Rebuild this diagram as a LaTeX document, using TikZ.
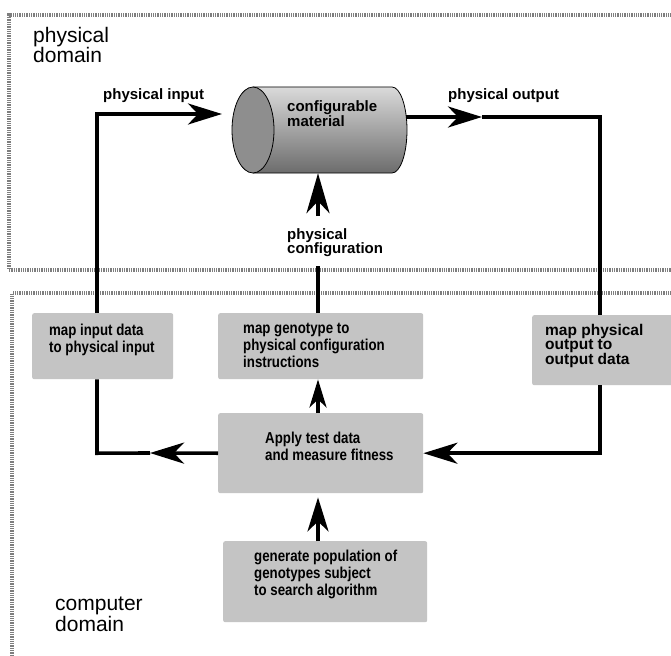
\documentclass[tikz,border=0pt]{standalone}
\usepackage{fontspec}
\setmainfont{Liberation Sans}
\newfontfamily\narrowsans[FakeStretch=0.84]{Liberation Sans}
\usetikzlibrary{arrows.meta}
\definecolor{framegray}{HTML}{7E7E7E}
\definecolor{boxgray}{HTML}{C4C4C4}
\definecolor{cyltop}{HTML}{DADADA}
\definecolor{cylmid}{HTML}{959595}
\definecolor{cylbot}{HTML}{6C6C6C}
\definecolor{cylface}{HTML}{8E8E8E}
\tikzset{
  frame/.style={line width=3.5pt, draw=framegray, dash pattern=on 1.3pt off 1pt},
  box/.style={fill=boxgray, rounded corners=2pt, inner sep=0pt, anchor=north west},
  conn/.style={line width=3.6pt, draw=black},
  tipbig/.style={-{Stealth[length=34pt,width=21pt,inset=10pt]}},
  tiplong/.style={-{Stealth[length=40pt,width=23pt,inset=12pt]}},
  tipsmall/.style={-{Stealth[length=28pt,width=17pt,inset=8pt]}},
  boxtext/.style={anchor=north west, inner sep=0pt, align=left,
    font=\narrowsans\bfseries\fontsize{15.8}{16.8}\selectfont},
  widetext/.style={anchor=north west, inner sep=0pt, align=left,
    font=\bfseries\fontsize{15.5}{14.5}\selectfont},
  arrowlabel/.style={anchor=north west, inner sep=0pt, align=left,
    font=\bfseries\fontsize{15}{14.5}\selectfont},
  domainlabel/.style={anchor=north west, inner sep=0pt, align=left,
    font=\fontsize{21}{19}\selectfont}
}
\begin{document}
\begin{tikzpicture}[x=1pt,y=-1pt]
\useasboundingbox (0,0) rectangle (671,655);
\fill[white] (0,0) rectangle (671,655);

% domain frames
\draw[frame] (690,15) -- (9,15) -- (9,270) -- (690,270);
\draw[frame] (690,293) -- (12,293) -- (12,670);

\node[domainlabel] (pdom) at (33,27) {physical\\domain};
\node[domainlabel] (cdom) at (55,597) {computer\\domain};

% cylinder
\shade[top color=cyltop, middle color=cylmid, bottom color=cylbot]
  (253,87) -- (392,87) arc[start angle=90, end angle=-90, x radius=15pt, y radius=43pt] -- (253,173) -- cycle;
\draw[line width=0.8pt] (253,87) -- (392,87) arc[start angle=90, end angle=-90, x radius=15pt, y radius=43pt] -- (253,173);
\filldraw[fill=cylface, line width=0.8pt] (253,130) ellipse[x radius=21pt, y radius=43pt];
\node[inner sep=0pt, minimum width=175pt, minimum height=86pt] (cyl) at (319.5,130) {};
\node[arrowlabel, font=\bfseries\fontsize{15}{13.5}\selectfont] (cyltext) at (287,100) {configurable\\material};

% arrow labels
\node[arrowlabel] (pinlab) at (103,88) {physical input};
\node[arrowlabel] (poutlab) at (448,88) {physical output};
\node[arrowlabel] (pcfglab) at (287,228) {physical\\configuration};

% boxes
\node[box, minimum width=141pt, minimum height=66pt] (inbox) at (32,313) {};
\node[box, minimum width=205pt, minimum height=66pt] (genobox) at (218,313) {};
\node[box, minimum width=150pt, minimum height=70pt] (outbox) at (532,315) {};
\node[box, minimum width=205pt, minimum height=80pt] (applybox) at (218,413) {};
\node[box, minimum width=204pt, minimum height=81pt] (genbox) at (223,541) {};

\node[boxtext] (intext) at (49,324) {map input data\\to physical input};
\node[boxtext] (genotext) at (243,323) {map genotype to\\physical configuration\\instructions};
\node[widetext] (outtext) at (545,324) {map physical\\output to\\output data};
\node[boxtext] (applytext) at (265,432) {Apply test data\\and measure fitness};
\node[boxtext] (gentext) at (254,550) {generate population of\\genotypes subject\\to search algorithm};

% routing coordinates
\coordinate (lx) at (97,114);
\coordinate (intip) at (222,114);
\coordinate (outy) at (406,117);
\coordinate (outtip) at (482,117);
\coordinate (rx) at (600,117);
\coordinate (cx) at (318,0);
\coordinate (cfglow) at (318,266);
\coordinate (cfghigh) at (318,216);
\coordinate (lefttip) at (150,453);

% connectors
\draw[conn, tipbig] (inbox.north -| lx) -- (lx) -- (intip);
\draw[conn, tipbig] (outy) -- (outtip);
\draw[conn] (outtip) -- (rx) -- (outbox.north -| rx);
\draw[conn] (genobox.north -| cx) -- (cfglow);
\draw[conn, tiplong] (cfghigh) -- (cyl.south -| cx);
\draw[conn, tipsmall] (applybox.north -| cx) -- (genobox.south -| cx);
\draw[conn, tipbig] (genbox.north -| cx) -- ([yshift=-4pt]applybox.south -| cx);
\draw[conn, tipbig] (outbox.south -| rx) -- (rx |- applybox.east) -- (applybox.east);
\draw[conn, tipbig] (applybox.west) -- (lefttip);
\draw[conn] (lefttip) -- (lx |- applybox.west) -- (inbox.south -| lx);
\end{tikzpicture}
\end{document}
